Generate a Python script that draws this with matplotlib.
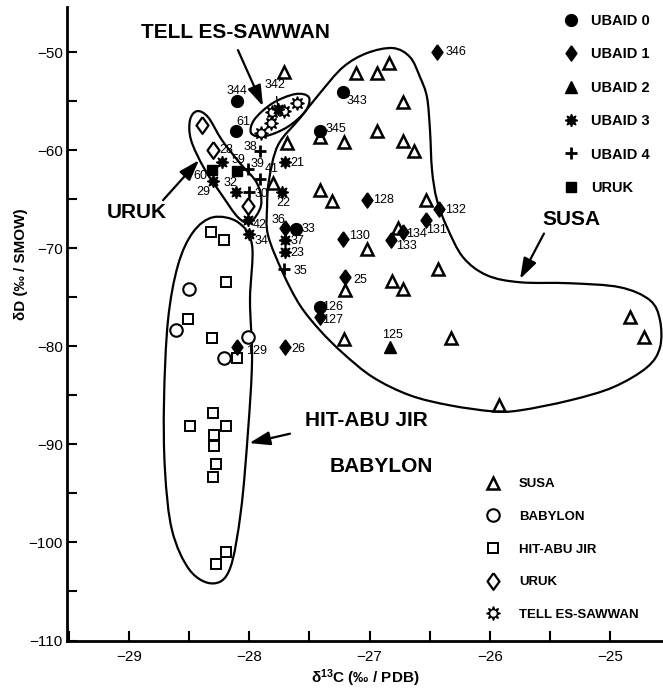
import numpy as np
import matplotlib
matplotlib.use('Agg')
import matplotlib.pyplot as plt
from matplotlib.path import Path
from matplotlib.patches import PathPatch
from matplotlib.lines import Line2D

plt.rcParams['font.family'] = ['Liberation Sans', 'DejaVu Sans']
plt.rcParams['mathtext.fontset'] = 'custom'
plt.rcParams['mathtext.rm'] = 'Liberation Sans'
plt.rcParams['mathtext.bf'] = 'Liberation Sans:bold'
plt.rcParams['mathtext.default'] = 'bf'

# --- reference groups (open symbols) : d13C, dD ---
susa_c = [-27.71, -27.11, -26.94, -26.84, -26.72, -26.94, -26.72, -26.63, -27.21,
          -27.41, -27.69, -27.80, -27.41, -27.31, -26.53, -26.76, -27.02, -27.20,
          -26.81, -26.72, -26.43, -27.21, -26.32, -25.92, -24.83, -24.72]
susa_d = [-52.0, -52.1, -52.1, -51.1, -55.1, -58.0, -59.1, -60.1, -59.2,
          -58.7, -59.3, -63.3, -64.1, -65.2, -65.1, -67.9, -70.1, -74.3,
          -73.3, -74.2, -72.1, -79.3, -79.2, -86.0, -77.0, -79.1]

babylon_c = [-28.50, -28.61, -28.01, -28.21]
babylon_d = [-74.2, -78.3, -79.1, -81.2]

hit_c = [-28.32, -28.21, -28.19, -28.51, -28.31, -28.10, -28.30, -28.49,
         -28.19, -28.29, -28.29, -28.28, -28.30, -28.19, -28.28]
hit_d = [-68.3, -69.2, -73.4, -77.2, -79.2, -81.2, -86.8, -88.1,
         -88.1, -89.0, -90.2, -92.0, -93.3, -101.0, -102.2]

uruk_c = [-28.39, -28.30, -28.01]
uruk_d = [-57.4, -60.0, -65.7]

sawwan_c = [-27.81, -27.71, -27.60, -27.82, -27.90]
sawwan_d = [-56.1, -56.0, -55.2, -57.2, -58.2]

# --- numbered samples (filled symbols) ---
ubaid0_id = [344, 61, 343, 345, 33, 126]
ubaid0_c = [-28.10, -28.11, -27.22, -27.41, -27.61, -27.41]
ubaid0_d = [-55.0, -58.0, -54.1, -58.0, -68.0, -76.0]

ubaid1_id = [346, 128, 132, 131, 134, 133, 130, 36, 25, 127, 129, 26]
ubaid1_c = [-26.44, -27.02, -26.42, -26.53, -26.72, -26.82, -27.22, -27.70,
            -27.20, -27.41, -28.10, -27.70]
ubaid1_d = [-50.0, -65.1, -66.0, -67.1, -68.3, -69.2, -69.1, -67.9,
            -72.9, -77.0, -80.1, -80.1]

ubaid2_id = [125]
ubaid2_c = [-26.83]
ubaid2_d = [-80.1]

ubaid3_id = [342, 28, 29, 32, 21, 22, 42, 34, 37, 23]
ubaid3_c = [-27.76, -28.23, -28.30, -28.11, -27.70, -27.73, -28.01, -28.00, -27.70, -27.70]
ubaid3_d = [-55.8, -61.2, -63.1, -64.3, -61.2, -64.3, -67.1, -68.5, -69.2, -70.4]

ubaid4_id = [38, 39, 41, 30, 35]
ubaid4_c = [-27.91, -28.01, -27.91, -28.00, -27.71]
ubaid4_d = [-60.1, -61.9, -62.9, -64.3, -72.1]

urukf_id = [59, 60]
urukf_c = [-28.10, -28.31]
urukf_d = [-62.1, -62.0]

# --- hand drawn field outlines (d13C, dD) ---
sawwan_line_c = [-27.505, -27.618, -27.806, -27.957, -27.984, -27.871, -27.683, -27.531]
sawwan_line_d = [-54.59, -54.28, -55.21, -56.87, -58.27, -58.58, -57.64, -55.99]

uruk_line_c = [-28.435, -28.343, -28.227, -28.077, -27.936, -27.902, -27.994,
               -28.094, -28.227, -28.376, -28.484, -28.493]
uruk_line_d = [-56.02, -56.63, -58.98, -61.33, -63.37, -65.61, -67.35,
               -66.84, -64.59, -61.84, -58.98, -56.94]

hit_line_c = [-28.301, -28.094, -27.977, -27.994, -27.977, -28.010, -28.069, -28.160,
              -28.301, -28.493, -28.642, -28.701, -28.709, -28.676, -28.593, -28.468]
hit_line_d = [-66.84, -67.35, -69.69, -75.31, -81.43, -88.57, -96.73, -102.65,
              -104.18, -102.86, -98.78, -92.65, -85.51, -77.35, -71.73, -68.37]

susa_line_c = [-27.578, -27.412, -27.220, -27.021, -26.805, -26.663, -26.580, -26.522,
               -26.497, -26.480, -26.439, -26.355, -26.222, -26.023, -25.748, -25.333,
               -24.917, -24.667, -24.584, -24.584, -24.692, -24.975, -25.333, -25.748,
               -25.973, -26.331, -26.663, -26.971, -27.220, -27.412, -27.578, -27.719,
               -27.844, -27.852, -27.836, -27.761]
susa_line_d = [-56.73, -54.18, -51.53, -50.10, -49.59, -50.51, -52.55, -54.59,
               -57.96, -62.04, -65.10, -67.86, -70.92, -72.76, -73.47, -73.57,
               -73.98, -75.31, -77.35, -80.10, -82.14, -84.18, -85.51, -86.53,
               -86.63, -86.02, -85.00, -83.16, -80.71, -78.37, -75.82, -72.55,
               -68.67, -65.82, -63.06, -59.49]

# label offsets of the sample numbers, in points
label_offsets = {
    344: (0, 7), 61: (5, 6), 343: (10, -6), 345: (11, 1), 33: (9, 0), 126: (9, 0),
    346: (13.5, 0), 128: (12, 0), 132: (11.5, -1), 131: (7.7, -7.5), 134: (9.4, -1.7),
    133: (10.8, -4.3), 130: (11.7, 2.2), 36: (-4.8, 5.4), 25: (10.3, -2.2), 127: (9, -2),
    129: (13.7, -2.7), 26: (9.6, -1), 125: (1.9, 9.1), 342: (-2.2, 17.3),
    28: (3.4, 8.6), 29: (-7.4, -8.4), 32: (-4.3, 6.7), 21: (8.4, -1), 22: (1, -7.8),
    42: (8.6, -3.6), 34: (9.1, -5.5), 37: (8.4, -0.5), 23: (8.4, -0.9),
    38: (-7.2, 3.1), 39: (6.8, 3.8), 41: (8.6, 7.2), 30: (9.1, -1.4), 35: (11.5, -1.9),
    59: (0.9, 7.9), 60: (-8.1, -4.3),
}


def smooth_closed(xs, ys):
    # closed Catmull-Rom curve written as cubic Bezier segments
    pts = np.column_stack([xs, ys])
    n = len(pts)
    verts = [pts[0]]
    codes = [Path.MOVETO]
    for i in range(n):
        p0, p1, p2, p3 = pts[i - 1], pts[i], pts[(i + 1) % n], pts[(i + 2) % n]
        verts += [p1 + (p2 - p0) / 6, p2 - (p3 - p1) / 6, p2]
        codes += [Path.CURVE4] * 3
    return Path(verts, codes)


diamond = [(0, 1), (0.72, 0), (0, -1), (-0.72, 0), (0, 1)]
gear = (8, 1, 0)

fig = plt.figure(figsize=(6.63, 6.91), dpi=100)
ax = fig.add_axes([67 / 663, 50.5 / 691, 596 / 663, 633.5 / 691])
ax.set_xlim(-29.516, -24.559)
ax.set_ylim(-110, -45.4)

for lc, ld in [(sawwan_line_c, sawwan_line_d), (uruk_line_c, uruk_line_d),
               (hit_line_c, hit_line_d), (susa_line_c, susa_line_d)]:
    ax.add_patch(PathPatch(smooth_closed(lc, ld), fill=False, lw=1.6, ec='k', zorder=1))

open_kw = dict(ls='none', mec='k', mfc='white', zorder=3)
ax.plot(susa_c, susa_d, marker='^', ms=9, mew=1.8, **open_kw)
ax.plot(babylon_c, babylon_d, marker='o', ms=9, mew=1.5, **open_kw)
ax.plot(hit_c, hit_d, marker='s', ms=7, mew=1.4, **open_kw)
ax.plot(uruk_c, uruk_d, marker=diamond, ms=12, mew=1.6, **open_kw)
ax.plot(sawwan_c, sawwan_d, ls='none', marker=gear, ms=10, color='k', zorder=3)
ax.plot(sawwan_c, sawwan_d, ls='none', marker='o', ms=3.6, color='white', zorder=3)

filled = [
    (ubaid0_id, ubaid0_c, ubaid0_d, dict(marker='o', ms=8.5)),
    (ubaid1_id, ubaid1_c, ubaid1_d, dict(marker=diamond, ms=11)),
    (ubaid2_id, ubaid2_c, ubaid2_d, dict(marker='^', ms=9)),
    (ubaid3_id, ubaid3_c, ubaid3_d, dict(marker=gear, ms=9)),
    (ubaid4_id, ubaid4_c, ubaid4_d, dict(marker='+', ms=9, mew=2)),
    (urukf_id, urukf_c, urukf_d, dict(marker='s', ms=7.5)),
]
num_font = dict(family=['Liberation Sans Narrow', 'Liberation Sans'], size=9)
for ids, cs, ds, style in filled:
    ax.plot(cs, ds, ls='none', color='k', zorder=4, **style)
    for sid, c, d in zip(ids, cs, ds):
        arrow = dict(arrowstyle='-', lw=1, color='k', shrinkA=2, shrinkB=3) if sid == 342 else None
        ax.annotate(str(sid), (c, d), xytext=label_offsets[sid], textcoords='offset points',
                    ha='center', va='center', arrowprops=arrow, zorder=5, **num_font)

# field names and arrows
big = dict(fontsize=15, fontweight='bold', ha='center', va='center')
ax.text(-28.118, -47.96, 'TELL ES-SAWWAN', **big)
ax.text(-25.320, -67.09, 'SUSA', **big)
ax.text(-28.933, -66.33, 'URUK', **big)
ax.text(-27.029, -87.60, 'HIT-ABU JIR', **big)
ax.text(-26.904, -92.24, 'BABYLON', **big)

arr = dict(arrowstyle='-|>,head_length=0.9,head_width=0.3', lw=1.6, color='k',
           shrinkA=0, shrinkB=0, mutation_scale=14)
ax.annotate('', xy=(-27.886, -55.51), xytext=(-28.094, -49.80), arrowprops=arr)
ax.annotate('', xy=(-28.418, -61.02), xytext=(-28.717, -65.10), arrowprops=arr)
ax.annotate('', xy=(-28.0, -89.87), xytext=(-27.661, -88.91), arrowprops=arr)
ax.annotate('', xy=(-25.748, -73.13), xytext=(-25.549, -68.50), arrowprops=arr)

# axes
for side in ['top', 'right']:
    ax.spines[side].set_visible(False)
for side in ['left', 'bottom']:
    ax.spines[side].set_linewidth(2)
ax.set_xticks(np.arange(-29, -24.9, 1))
ax.set_xticks(np.arange(-29.5, -24.5, 1), minor=True)
ax.set_yticks(np.arange(-110, -49, 10))
ax.set_yticks(np.arange(-105, -50, 10), minor=True)
ax.set_xticklabels(['\u221229', '\u221228', '\u221227', '\u221226', '\u221225'])
ax.tick_params(which='both', direction='in', length=7, width=1.5, labelsize=11)
ax.tick_params(axis='x', pad=7)
ax.tick_params(axis='y', pad=3)
ax.set_xlabel('δ$^{13}$C (‰ / PDB)', fontsize=11, fontweight='bold', labelpad=2)
ax.set_ylabel('δD (‰ / SMOW)', fontsize=11, fontweight='bold')
ax.yaxis.set_label_coords(-0.065, 0.594)

# legends
h_u0 = Line2D([], [], ls='none', color='k', marker='o', ms=8.5)
h_u1 = Line2D([], [], ls='none', color='k', marker=diamond, ms=11)
h_u2 = Line2D([], [], ls='none', color='k', marker='^', ms=9)
h_u3 = Line2D([], [], ls='none', color='k', marker=gear, ms=9)
h_u4 = Line2D([], [], ls='none', color='k', marker='+', ms=9, mew=2)
h_ur = Line2D([], [], ls='none', color='k', marker='s', ms=7.5)
leg1 = ax.legend([h_u0, h_u1, h_u2, h_u3, h_u4, h_ur],
                 ['UBAID 0', 'UBAID 1', 'UBAID 2', 'UBAID 3', 'UBAID 4', 'URUK'],
                 loc='upper left', bbox_to_anchor=(564 / 663, 1 - 14 / 691),
                 bbox_transform=fig.transFigure, frameon=False,
                 prop=dict(weight='bold', size=10.5), handlelength=1.0,
                 handletextpad=0.85, labelspacing=1.33, borderpad=0, borderaxespad=0)
ax.add_artist(leg1)

h_s = Line2D([], [], ls='none', marker='^', ms=9, mew=1.8, mec='k', mfc='white')
h_b = Line2D([], [], ls='none', marker='o', ms=9, mew=1.5, mec='k', mfc='white')
h_h = Line2D([], [], ls='none', marker='s', ms=7, mew=1.4, mec='k', mfc='white')
h_k = Line2D([], [], ls='none', marker=diamond, ms=12, mew=1.6, mec='k', mfc='white')
h_t = (Line2D([], [], ls='none', marker=gear, ms=10, color='k'),
       Line2D([], [], ls='none', marker='o', ms=3.6, color='white'))
ax.legend([h_s, h_b, h_h, h_k, h_t],
          ['SUSA', 'BABYLON', 'HIT-ABU JIR', 'URUK', 'TELL ES-SAWWAN'],
          loc='upper left', bbox_to_anchor=(486 / 663, 1 - 478 / 691),
          bbox_transform=fig.transFigure, frameon=False,
          prop=dict(weight='bold', size=9.5), handlelength=1.0,
          handletextpad=1.5, labelspacing=1.55, borderpad=0, borderaxespad=0)

fig.savefig('out.png', dpi=100)
